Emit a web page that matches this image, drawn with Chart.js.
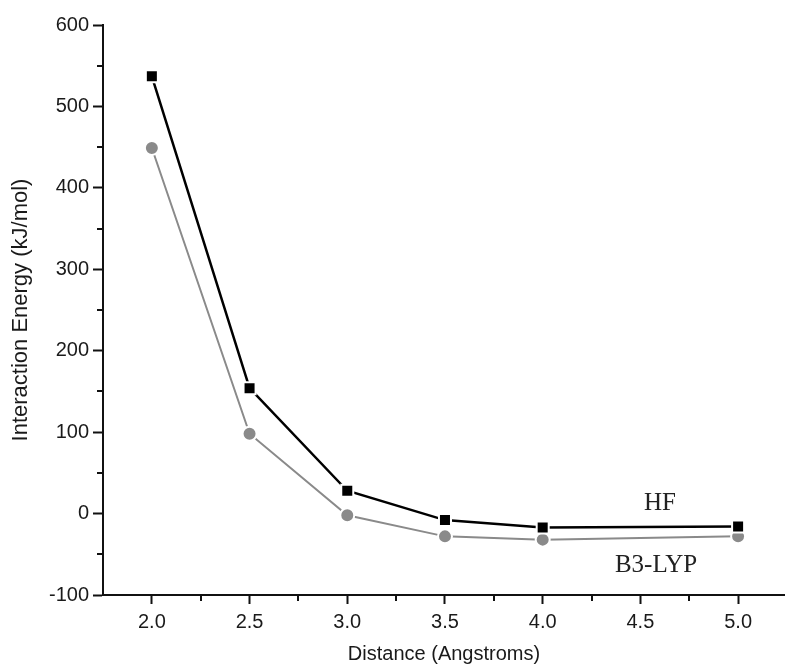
<!DOCTYPE html>
<html lang="en">
<head>
    <meta charset="UTF-8">
    <title>Interaction Energy vs Distance</title>
    <script src="https://cdn.jsdelivr.net/npm/chart.js"></script>
    <style>
        body { margin: 0; background: white; overflow: hidden; }
        #box { width: 785px; height: 670px; }
    </style>
</head>
<body>
    <div id="box"><canvas id="grafico" width="785" height="670"></canvas></div>
<script>
    // values
    const distancias = [2.0, 2.5, 3.0, 3.5, 4.0, 5.0];
    const energiaHF = [537, 154, 28, -8, -17, -16];
    const energiaB3LYP = [449, 98, -2, -28, -32, -28];

    const xTicks = [2.0, 2.5, 3.0, 3.5, 4.0, 4.5, 5.0];
    const xMinor = [2.25, 2.75, 3.25, 3.75, 4.25, 4.75];
    const yTicks = [-100, 0, 100, 200, 300, 400, 500, 600];
    const yMinor = [-50, 50, 150, 250, 350, 450, 550];

    // text labels next to the curves: [text, x, y]
    const rotulos = [["HF", 4.6, 12], ["B3-LYP", 4.58, -64]];

    const fonte = "'Liberation Sans', Arial, sans-serif";

    const extras = {
        id: 'extras',
        afterDraw(chart) {
            const c = chart.ctx;
            const sx = chart.scales.x, sy = chart.scales.y;
            c.save();
            c.strokeStyle = '#111';
            c.lineWidth = 2;
            c.beginPath();
            xMinor.forEach(v => {
                const px = Math.round(sx.getPixelForValue(v));
                c.moveTo(px, sy.bottom);
                c.lineTo(px, sy.bottom + 6);
            });
            yMinor.forEach(v => {
                const py = Math.round(sy.getPixelForValue(v));
                c.moveTo(sx.left, py);
                c.lineTo(sx.left - 6, py);
            });
            c.stroke();
            c.fillStyle = '#222';
            c.font = "25px 'Liberation Serif', 'Times New Roman', serif";
            c.textAlign = 'center';
            c.textBaseline = 'middle';
            rotulos.forEach(r => {
                c.fillText(r[0], sx.getPixelForValue(r[1]), sy.getPixelForValue(r[2]));
            });
            c.restore();
        }
    };

    const ctx = document.getElementById("grafico").getContext("2d");

    new Chart(ctx, {
        type: 'line',
        data: {
            datasets: [{
                label: 'HF',
                data: distancias.map((d, i) => ({ x: d, y: energiaHF[i] })),
                borderColor: '#000',
                backgroundColor: '#000',
                borderWidth: 2.5,
                pointStyle: 'rect',
                pointRadius: 8.5,
                pointBorderColor: '#fff',
                pointBorderWidth: 2,
                pointBackgroundColor: '#000',
                tension: 0
            }, {
                label: 'B3-LYP',
                data: distancias.map((d, i) => ({ x: d, y: energiaB3LYP[i] })),
                borderColor: '#8a8a8a',
                backgroundColor: '#8a8a8a',
                borderWidth: 2,
                pointStyle: 'circle',
                pointRadius: 7,
                pointBorderColor: '#fff',
                pointBorderWidth: 2,
                pointBackgroundColor: '#8a8a8a',
                tension: 0
            }]
        },
        options: {
            responsive: false,
            animation: false,
            layout: { autoPadding: false, padding: { top: 25, right: 0, left: 0, bottom: 0 } },
            plugins: {
                legend: { display: false },
                tooltip: { enabled: false }
            },
            scales: {
                x: {
                    type: 'linear',
                    min: 1.75,
                    max: 5.24,
                    afterBuildTicks: s => { s.ticks = xTicks.map(v => ({ value: v })); },
                    afterFit: s => { s.height = 75; s.paddingLeft = 0; s.paddingRight = 0; },
                    ticks: {
                        color: '#1a1a1a',
                        font: { family: fonte, size: 20 },
                        padding: 6,
                        maxRotation: 0,
                        callback: v => v.toFixed(1)
                    },
                    grid: {
                        drawOnChartArea: false,
                        color: '#111',
                        tickLength: 9,
                        tickWidth: 2
                    },
                    border: { color: '#111', width: 2 },
                    title: {
                        display: true,
                        text: 'Distance (Angstroms)',
                        color: '#1a1a1a',
                        font: { family: fonte, size: 20 },
                        padding: { top: 4 }
                    }
                },
                y: {
                    min: -100,
                    max: 600,
                    afterBuildTicks: s => { s.ticks = yTicks.map(v => ({ value: v })); },
                    afterFit: s => { s.width = 103; },
                    ticks: {
                        color: '#1a1a1a',
                        font: { family: fonte, size: 20 },
                        padding: 4
                    },
                    grid: {
                        drawOnChartArea: false,
                        color: '#111',
                        tickLength: 10,
                        tickWidth: 2
                    },
                    border: { color: '#111', width: 2 },
                    title: {
                        display: true,
                        text: 'Interaction Energy (kJ/mol)',
                        color: '#1a1a1a',
                        font: { family: fonte, size: 22 },
                        padding: { top: 8, bottom: 6 }
                    }
                }
            }
        },
        plugins: [extras]
    });
</script>
</body>
</html>
